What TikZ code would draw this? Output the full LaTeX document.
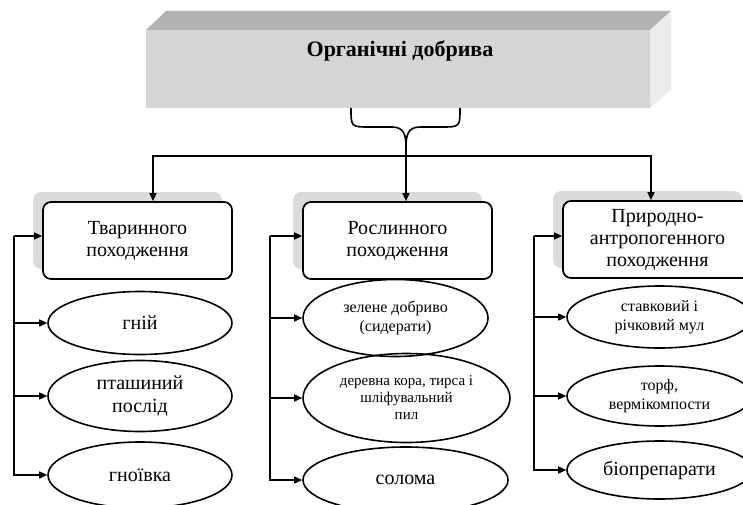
\documentclass[tikz,border=0pt]{standalone}
\usepackage{fontspec}
\setmainfont{Liberation Serif}
\usetikzlibrary{shapes.geometric,shadows,arrows.meta}
\tikzset{>={Triangle[length=8pt,width=7pt]}}
\tikzset{
  group/.style={draw,line width=1.7pt,rounded corners=8pt,minimum width=189pt,
    minimum height=77pt,align=center,fill=white,font=\fontsize{20}{22}\selectfont,
    drop shadow={shadow xshift=-10pt,shadow yshift=10pt,opacity=1,fill=gray!28}},
  kind/.style={ellipse,draw,line width=1.6pt,inner sep=0pt,align=center,
    minimum width=184pt,font=\fontsize{20}{23}\selectfont},
  small/.style={font=\fontsize{16}{19}\selectfont},
  link/.style={line width=1.4pt}
}
\begin{document}
\begin{tikzpicture}[x=1pt,y=-1pt]
  \useasboundingbox (0,0) rectangle (743,505);
  \clip (0,0) rectangle (743,505);
  % top block
  \fill[gray!60] (146,30) -- (166,11) -- (671,11) -- (650,30) -- cycle;
  \fill[gray!15] (650,30) -- (671,11) -- (671,90) -- (650,108) -- cycle;
  \fill[gray!33] (146,30) rectangle (650,108);
  \node[font=\fontsize{22}{26}\selectfont\bfseries] (title) at (400,51) {Органічні добрива};
  \coordinate (tip) at (406,147);
  \draw[link,line width=1.6pt] (351,108) .. controls (351,127) and (351,127) .. (370,127)
    -- (392,127) .. controls (404,127) and (406,135) .. (tip)
    .. controls (406,135) and (408,127) .. (420,127) -- (441,127)
    .. controls (460,127) and (460,127) .. (460,108);
  % groups
  \node[group] (b1) at (137.5,240.5) {Тваринного\\походження};
  \node[group] (b2) at (397.5,240.5) {Рослинного\\походження};
  \node[group] (b3) at (657.5,239.5) {Природно-\\антропогенного\\походження};
  % kinds
  \node[kind,minimum height=63pt] (e11) at (140,323) {гній};
  \node[kind,minimum height=71pt] (e12) at (140,396) {пташиний\\послід};
  \node[kind,minimum height=66pt] (e13) at (140,475) {гноївка};
  \node[kind,small,minimum width=185pt,minimum height=77pt] (e21) at (395.5,318) {зелене добриво\\(сидерати)};
  \node[kind,minimum width=207pt,minimum height=89pt,font=\fontsize{15}{17}\selectfont] (e22) at (406.5,398)
    {деревна кора, тирса і\\шліфувальний\\пил};
  \node[kind,minimum width=205pt,minimum height=66pt] (e23) at (405.5,480) {солома};
  \node[kind,small,minimum width=185pt,minimum height=62pt] (e31) at (659.5,317) {ставковий і\\річковий мул};
  \node[kind,small,minimum width=185pt,minimum height=60pt] (e32) at (659.5,396) {торф,\\вермікомпости};
  \node[kind,minimum width=185pt,minimum height=58pt] (e33) at (659.5,470) {біопрепарати};
  % connectors
  \coordinate (busL) at (153,156);
  \coordinate (busR) at (651,156);
  \draw[link,->] (tip) -- (tip |- b2.north);
  \draw[link,<->] (busL |- b1.north) -- (busL) -- (busR) -- (busR |- b3.north);
  \coordinate (f1) at (14,236);
  \coordinate (f2) at (270,236);
  \coordinate (f3) at (534,236);
  \draw[link,->] (f1) -- (f1 -| b1.west);
  \draw[link,->] (f2) -- (f2 -| b2.west);
  \draw[link,->] (f3) -- (f3 -| b3.west);
  \foreach \e in {e11,e12,e13} \draw[link,->] (f1) |- (\e.west);
  \foreach \e in {e21,e22,e23} \draw[link,->] (f2) |- (\e.west);
  \foreach \e in {e31,e32,e33} \draw[link,->] (f3) |- (\e.west);
\end{tikzpicture}
\end{document}
